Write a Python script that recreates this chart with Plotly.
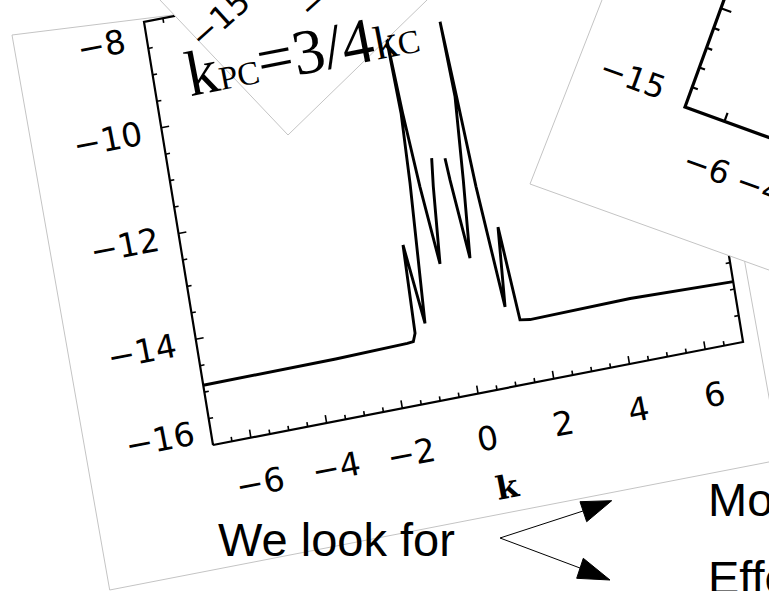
import numpy as np
import plotly.graph_objects as go

W, H = 769, 591

# ---------------------------------------------------------------
# Main panel: log growth rate versus wavenumber k
# ---------------------------------------------------------------
K_LEFT = [-7.0, -3.5, -1.6, -1.44, -1.36, -1.30, -1.064, -0.862, -0.80,
          -0.87, -0.76, -0.623, -0.432, -0.281, -0.204]
V_LEFT = [-14.87, -14.86, -14.83, -14.82, -14.67, -13.01, -14.525, -11.90, -10.60,
          -9.0, -10.59, -12.01, -13.49, -12.05, -11.52]
K_RIGHT = [0.137, 0.175, 0.360, 0.515, 0.651, 0.58, 0.69, 0.812, 1.054,
           1.207, 1.382, 1.64, 4.29, 7.0]
V_RIGHT = [-11.57, -11.99, -13.49, -12.03, -10.48, -9.05, -10.48, -12.20, -14.51,
           -13.02, -14.80, -14.83, -14.80, -14.86]

K_RANGE = [-7, 7]
V_RANGE = [-16, -8]
K_TICKS = [-6, -4, -2, 0, 2, 4, 6]
K_TICK_LABELS = ["−6", "−4", "−2", "0", "2", "4", "6"]
V_TICKS = [-16, -14, -12, -10, -8]
V_TICK_LABELS = ["−16", "−14", "−12", "−10", "−8"]
MINOR_STEP = 0.5
X_TITLE = "k"

# Inset panel (top right, partly visible)
INSET_X_RANGE = [-7.5, -3.5]
INSET_Y_RANGE = [-15, -9.5]
INSET_Y_TICKS = [-14, -13, -12, -11, -10]
INSET_Y_LABELED = [-15, -10]
INSET_Y_LABELS = ["−15", "−10"]
INSET_X_TICKS = [-6, -4]
INSET_X_LABELS = ["−6", "−4"]

# Slide text
FORMULA = ('k<span style="font-size:33px">PC</span>=3/4'
           '<span style="font-size:47px">k</span>'
           '<span style="font-size:33px">C</span>')
LOOK_FOR = "We look for"
ITEM_1 = "Mo"
ITEM_2 = "Effe"
CORNER_LABELS = ["−15", "−"]

# ---------------------------------------------------------------
# Geometry of the tilted panels (pixel frame, y downwards)
# ---------------------------------------------------------------
ORIGIN = np.array([213.0, 445.0])      # (k=-7, v=-16)
EK = np.array([37.86, -7.36])          # pixels per unit of k
EV = np.array([-8.625, -52.875])       # pixels per unit of v


def unit(v):
    v = np.asarray(v, float)
    return v / np.linalg.norm(v)


def main_px(k, v):
    k = np.asarray(k, float)
    v = np.asarray(v, float)
    x = ORIGIN[0] + (k - K_RANGE[0]) * EK[0] + (v - V_RANGE[0]) * EV[0]
    y = ORIGIN[1] + (k - K_RANGE[0]) * EK[1] + (v - V_RANGE[0]) * EV[1]
    return x, y


INSET_CORNER = np.array([685.0, 107.0])
_a = np.deg2rad(20)
IX = 28.0 * np.array([np.cos(_a), np.sin(_a)])
IY = 21.0 * np.array([np.sin(_a), -np.cos(_a)])


def inset_px(x, y):
    p = INSET_CORNER + (x - INSET_X_RANGE[0]) * IX + (y - INSET_Y_RANGE[0]) * IY
    return p


def seg_xy(segs):
    xs, ys = [], []
    for a, b in segs:
        xs += [a[0], b[0], None]
        ys += [a[1], b[1], None]
    return xs, ys


def is_major(t):
    return abs(t - round(t)) < 1e-9 and int(round(t)) % 2 == 0


BLACK = "#000000"
GRAY = "#c4c4c4"
fig = go.Figure()


def add_poly(pts, fill="white", line=GRAY, width=1):
    xs = [p[0] for p in pts] + [pts[0][0]]
    ys = [p[1] for p in pts] + [pts[0][1]]
    fig.add_trace(go.Scatter(x=xs, y=ys, mode="lines", fill="toself",
                             fillcolor=fill, line=dict(color=line, width=width),
                             hoverinfo="skip"))


def add_lines(xs, ys, width, color=BLACK):
    fig.add_trace(go.Scatter(x=xs, y=ys, mode="lines",
                             line=dict(color=color, width=width),
                             hoverinfo="skip", connectgaps=False))


# sheet holding the main panel
add_poly([(12, 35), (689, -49), (780.2, 459.8), (109.7, 590)])

# main panel frame
bx, by = main_px([K_RANGE[0], K_RANGE[1], K_RANGE[1], K_RANGE[0], K_RANGE[0]],
                 [V_RANGE[0], V_RANGE[0], V_RANGE[1], V_RANGE[1], V_RANGE[0]])
add_lines(list(bx), list(by), 2.2)

# main panel ticks (inward)
U_K, U_V = unit(EK), unit(EV)
MAJOR_LEN, MINOR_LEN = 8.0, 4.5
segs = []
for k in np.arange(K_RANGE[0] + MINOR_STEP, K_RANGE[1], MINOR_STEP):
    L = MAJOR_LEN if is_major(k) else MINOR_LEN
    b = np.array(main_px(k, V_RANGE[0]))
    t = np.array(main_px(k, V_RANGE[1]))
    segs += [(b, b + L * U_V), (t, t - L * U_V)]
for v in np.arange(V_RANGE[0] + MINOR_STEP, V_RANGE[1], MINOR_STEP):
    L = MAJOR_LEN if is_major(v) else MINOR_LEN
    l = np.array(main_px(K_RANGE[0], v))
    r = np.array(main_px(K_RANGE[1], v))
    segs += [(l, l + L * U_K), (r, r - L * U_K)]
tx, ty = seg_xy(segs)
add_lines(tx, ty, 1.6)

# growth curve
for ks, vs in ((K_LEFT, V_LEFT), (K_RIGHT, V_RIGHT)):
    cx, cy = main_px(ks, vs)
    add_lines(list(cx), list(cy), 2.9)

# inset sheet (top right)
add_poly([(609.8, -20), (530, 184), (800, 281.2), (800, -20)])
ya = inset_px(INSET_X_RANGE[0], INSET_Y_RANGE[0])
yb = inset_px(INSET_X_RANGE[0], INSET_Y_RANGE[1])
xb = inset_px(INSET_X_RANGE[1], INSET_Y_RANGE[0])
add_lines([yb[0], ya[0], xb[0]], [yb[1], ya[1], xb[1]], 3.2)
UIX, UIY = unit(IX), unit(IY)
segs = []
for y in INSET_Y_TICKS:
    L = 11.0 if y % 5 == 0 else 6.0
    p = inset_px(INSET_X_RANGE[0], y)
    segs.append((p, p + L * UIX))
for x in INSET_X_TICKS:
    p = inset_px(x, INSET_Y_RANGE[0])
    segs.append((p, p + 9.0 * UIY))
tx, ty = seg_xy(segs)
add_lines(tx, ty, 2.2)

# third sheet (top left, tilted)
add_poly([(150.5, -10), (288, 135), (437.3, -10)])

# arrows
add_lines([583, 500, 580], [511, 538, 568], 1)
for head in ([(611.7, 500.7), (580, 501.7), (586.7, 521.7)],
             [(610, 580), (583.3, 558.3), (576.7, 578.3)]):
    add_poly(head, fill=BLACK, line=BLACK, width=1)

# ---------------------------------------------------------------
# Text
# ---------------------------------------------------------------
ann = []


def text(x, y, s, size, family="DejaVu Sans", angle=0, xa="center", ya="middle",
         bold=False):
    ann.append(dict(x=x / W, y=1 - y / H, xref="paper", yref="paper", text=s,
                    showarrow=False, textangle=angle, xanchor=xa, yanchor=ya,
                    font=dict(family=family, size=size, color=BLACK,
                              weight="bold" if bold else "normal"),
                    borderpad=0))


for k, lab in zip(K_TICKS, K_TICK_LABELS):
    x, y = main_px(k, V_RANGE[0])
    text(float(x) + 9.5, float(y) + 45, lab, 33, angle=-11)

LABEL_SHIFT = {-8: 11, -16: -18}
for v, lab in zip(V_TICKS, V_TICK_LABELS):
    x, y = main_px(K_RANGE[0], v)
    text(float(x) - 14, float(y) + 12 + LABEL_SHIFT.get(v, 0), lab, 33,
         angle=-11, xa="right")

tx0, ty0 = main_px(0, V_RANGE[0])
text(float(tx0) + 29, float(ty0) + 93.5, X_TITLE, 32, family="DejaVu Serif",
     angle=-11, bold=True)

for y, lab in zip(INSET_Y_LABELED, INSET_Y_LABELS):
    p = inset_px(INSET_X_RANGE[0], y)
    text(p[0] - 52, p[1] - 29, lab, 32, angle=20)
for x, lab in zip(INSET_X_TICKS, INSET_X_LABELS):
    p = inset_px(x, INSET_Y_RANGE[0])
    text(p[0] - 18, p[1] + 46, lab, 32, angle=20)

text(220, 19, CORNER_LABELS[0], 32, angle=-42)
text(313, 4, CORNER_LABELS[1], 32, angle=-42)

text(302, 53, FORMULA, 64, family="Liberation Serif", angle=-11)
text(217, 539, LOOK_FOR, 47, family="Liberation Sans", xa="left")
text(707, 499, ITEM_1, 47, family="Liberation Sans", xa="left")
text(707, 577, ITEM_2, 47, family="Liberation Sans", xa="left")

fig.update_layout(
    width=W, height=H, margin=dict(l=0, r=0, t=0, b=0),
    paper_bgcolor="white", plot_bgcolor="white", showlegend=False,
    xaxis=dict(range=[0, W], visible=False, fixedrange=True),
    yaxis=dict(range=[H, 0], visible=False, fixedrange=True),
    annotations=ann,
)

fig.write_html("out.html")
